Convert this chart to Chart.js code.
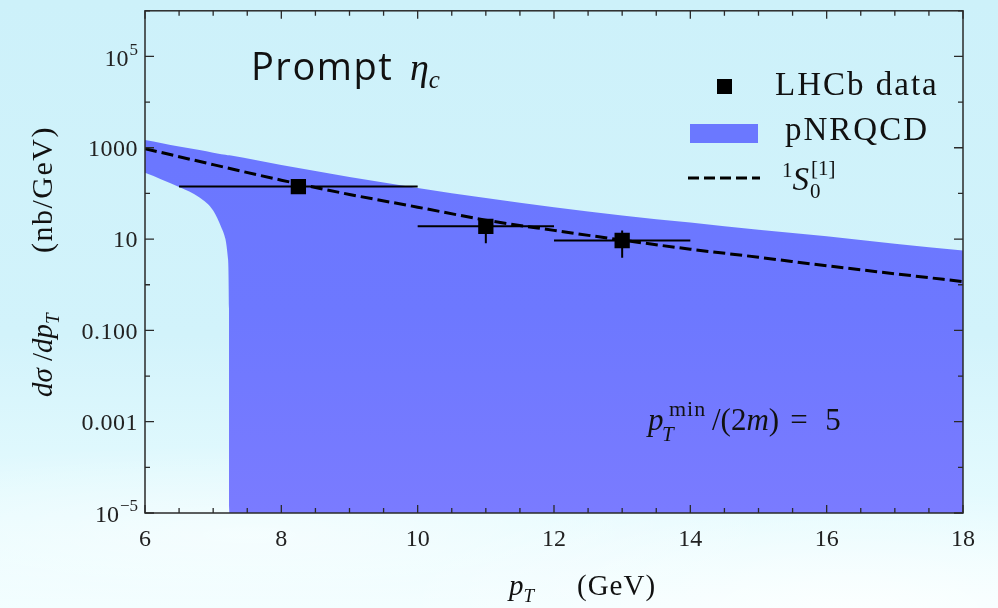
<!DOCTYPE html>
<html>
<head>
<meta charset="utf-8">
<script src="https://cdn.jsdelivr.net/npm/chart.js@4.4.1/dist/chart.umd.min.js"></script>
<style>
  html, body { margin: 0; padding: 0; }
  body {
    width: 998px; height: 608px; overflow: hidden;
    background:
      radial-gradient(ellipse 700px 120px at 25% 88%, rgba(255,255,255,0.55), rgba(255,255,255,0) 75%),
      radial-gradient(ellipse 600px 160px at 85% 100%, rgba(255,255,255,0.7), rgba(255,255,255,0) 75%),
      linear-gradient(180deg, #cdf1fa 0%, #d2f3fb 55%, #e6fbfe 85%, #f2feff 100%);
  }
  canvas { display: block; }
</style>
</head>
<body>
<canvas id="chart" width="998" height="608"></canvas>
<script>
// pT axis ticks (GeV)
const xTicks = [6, 8, 10, 12, 14, 16, 18];
// labelled decades on the y axis
const yLabelExp = [-5, -3, -1, 1, 3, 5];
const yLabels = ['10|\u22125', '0.001', '0.100', '10', '1000', '10|5'];

// LHCb data (nb/GeV)
const dataPt = [8.25, 11, 13];
const dataVal = [141, 19, 9.3];
const dataPtLo = [6.5, 10, 12];
const dataPtHi = [10, 12, 14];
const dataValLo = [105, 8.1, 3.9];
const dataValHi = [190, 27.5, 15.5];

// 1S0[1] curve
const curvePt = [6, 7, 8, 9, 10, 11, 12, 13, 14, 15, 16, 17, 18];
const curveVal = [955, 427, 195, 95, 50, 26, 15.5, 9.5, 6.0, 4.0, 2.6, 1.74, 1.17];

// pNRQCD band
const bandPt = [6, 6.25, 6.5, 6.8, 7, 7.12, 7.18, 7.215, 7.232, 7.24, 8, 9, 10, 11, 12, 13, 14, 15, 16, 17, 18];
const bandUpper = [1480, 1260, 1070, 890, 776, 720, 700, 688, 684, 682, 417, 229, 132, 79, 50, 33, 23, 16, 11.5, 7.9, 5.6];
const bandLower = [282, 200, 138, 81, 42, 18, 10, 4, 0.3, 1e-7, 1e-7, 1e-7, 1e-7, 1e-7, 1e-7, 1e-7, 1e-7, 1e-7, 1e-7, 1e-7, 1e-7];

const SERIF = '"Liberation Serif", "DejaVu Serif", serif';
const SANS = '"Open Sans", "DejaVu Sans", sans-serif';

const pairs = (xs, ys) => xs.map((v, i) => ({ x: v, y: ys[i] }));

// draw a run of text pieces: [text, font, dy]
function run(ctx, parts, x, y) {
  parts.forEach(([t, f, dy]) => {
    ctx.font = f;
    ctx.fillText(t, x, y + (dy || 0));
    x += ctx.measureText(t).width;
  });
  return x;
}

const deco = {
  id: 'deco',
  afterDatasetsDraw(chart) {
    const { ctx, chartArea: a, scales: { x, y } } = chart;
    ctx.save();
    // error bars
    ctx.strokeStyle = '#000';
    ctx.lineWidth = 2;
    dataPt.forEach((p, i) => {
      const px = x.getPixelForValue(p), py = y.getPixelForValue(dataVal[i]);
      ctx.beginPath();
      ctx.moveTo(x.getPixelForValue(dataPtLo[i]), py);
      ctx.lineTo(x.getPixelForValue(dataPtHi[i]), py);
      ctx.moveTo(px, y.getPixelForValue(dataValLo[i]));
      ctx.lineTo(px, y.getPixelForValue(dataValHi[i]));
      ctx.stroke();
    });

    // frame
    ctx.strokeStyle = '#2a2a2a';
    ctx.lineWidth = 1.5;
    ctx.strokeRect(a.left, a.top, a.right - a.left, a.bottom - a.top);

    // inward ticks on all four sides
    ctx.lineWidth = 1.3;
    ctx.beginPath();
    for (let v = 6; v <= 18.001; v += 0.5) {
      const px = x.getPixelForValue(v);
      const len = xTicks.includes(v) ? 8 : 5;
      ctx.moveTo(px, a.bottom); ctx.lineTo(px, a.bottom - len);
      ctx.moveTo(px, a.top); ctx.lineTo(px, a.top + len);
    }
    for (let e = -5; e <= 6; e++) {
      const py = y.getPixelForValue(Math.pow(10, e));
      const len = yLabelExp.includes(e) ? 9 : 5;
      ctx.moveTo(a.left, py); ctx.lineTo(a.left + len, py);
      ctx.moveTo(a.right, py); ctx.lineTo(a.right - len, py);
    }
    ctx.stroke();

    // y tick labels
    ctx.fillStyle = '#222';
    ctx.textAlign = 'right';
    ctx.textBaseline = 'middle';
    yLabelExp.forEach((e, i) => {
      const py = y.getPixelForValue(Math.pow(10, e));
      const [base, sup] = yLabels[i].split('|');
      if (sup) {
        ctx.font = '17px ' + SERIF;
        const sw = ctx.measureText(sup).width;
        ctx.fillText(sup, a.left - 7, py - 6);
        ctx.font = '24px ' + SERIF;
        ctx.fillText(base, a.left - 8 - sw, py + 3);
      } else {
        ctx.font = '24px ' + SERIF;
        ctx.letterSpacing = '0.5px';
        ctx.fillText(base, a.left - 7, py + 2);
        ctx.letterSpacing = '0px';
      }
    });
    ctx.restore();
  },
  afterDraw(chart) {
    const { ctx } = chart;
    ctx.save();
    ctx.fillStyle = '#111';
    ctx.textAlign = 'left';
    ctx.textBaseline = 'alphabetic';

    // title
    ctx.letterSpacing = '1.5px';
    ctx.font = '38px ' + SANS;
    ctx.fillText('Prompt', 251, 80);
    ctx.letterSpacing = '0px';
    run(ctx, [['\u03B7', 'italic 38px ' + SERIF, 0], ['c', 'italic 25px ' + SERIF, 8]], 410, 80);

    // legend
    ctx.fillStyle = '#000';
    ctx.fillRect(717, 79, 15, 15);
    ctx.fillStyle = '#6b78ff';
    ctx.fillRect(690, 124, 68, 19);
    ctx.strokeStyle = '#000';
    ctx.lineWidth = 3;
    ctx.setLineDash([11, 5]);
    ctx.beginPath();
    ctx.moveTo(688, 178); ctx.lineTo(760, 178);
    ctx.stroke();
    ctx.setLineDash([]);
    ctx.fillStyle = '#111';
    ctx.letterSpacing = '2px';
    ctx.font = '33px ' + SERIF;
    ctx.fillText('LHCb data', 775, 95);
    ctx.fillText('pNRQCD', 785, 140);
    ctx.letterSpacing = '0px';
    const sEnd = run(ctx, [['1', '21px ' + SERIF, -13], ['S', 'italic 33px ' + SERIF, 0]], 782, 190);
    ctx.font = '21px ' + SERIF;
    ctx.fillText('0', sEnd + 1, 198);
    ctx.fillText('[1]', sEnd + 2, 175);

    // annotation
    const f31 = '31px ' + SERIF, i31 = 'italic 31px ' + SERIF;
    ctx.font = i31; ctx.fillText('p', 648, 430);
    ctx.font = 'italic 21px ' + SERIF; ctx.fillText('T', 662, 441);
    ctx.letterSpacing = '1px';
    ctx.font = '22px ' + SERIF; ctx.fillText('min', 669, 416);
    ctx.letterSpacing = '0px';
    const pEnd = run(ctx, [['/(2', f31, 0], ['m', i31, 0], [')', f31, 0]], 712, 430);
    ctx.font = f31;
    ctx.fillText('=', pEnd + 11, 430);
    ctx.fillText('5', pEnd + 46, 430);

    // x title
    const f29 = '29px ' + SERIF, i29 = 'italic 29px ' + SERIF;
    run(ctx, [['p', i29, 0], ['T', 'italic 19px ' + SERIF, 7]], 509, 595);
    ctx.letterSpacing = '1px';
    run(ctx, [['(GeV)', f29, 0]], 577, 595);
    ctx.letterSpacing = '0px';

    // y title
    ctx.translate(52, 397);
    ctx.rotate(-Math.PI / 2);
    run(ctx, [['d\u03C3', i29, 0], [' /', f29, 0], ['dp', i29, 0], ['T', 'italic 19px ' + SERIF, 7]], 0, 0);
    ctx.letterSpacing = '1.5px';
    run(ctx, [['(nb/GeV)', '30px ' + SERIF, 0]], 144, 0);
    ctx.restore();
  }
};

const canvas = document.getElementById('chart');
new Chart(canvas.getContext('2d'), {
  type: 'line',
  data: {
    datasets: [
      {
        label: 'LHCb data',
        data: pairs(dataPt, dataVal),
        showLine: false,
        pointStyle: 'rect',
        pointRadius: 10.8,
        pointBackgroundColor: '#000',
        pointBorderWidth: 0,
        borderColor: '#000'
      },
      {
        label: '1S0[1]',
        data: pairs(curvePt, curveVal),
        borderColor: '#000',
        borderWidth: 3,
        borderDash: [12, 5],
        pointRadius: 0,
        fill: false,
        cubicInterpolationMode: 'monotone'
      },
      {
        label: 'pNRQCD',
        data: pairs(bandPt, bandUpper),
        borderColor: 'rgba(0,0,0,0)',
        borderWidth: 1,
        pointRadius: 0,
        fill: '+1',
        cubicInterpolationMode: 'monotone',
        backgroundColor: c => {
          const a = c.chart.chartArea;
          if (!a) return '#6b78ff';
          const g = c.chart.ctx.createLinearGradient(0, a.top, 0, a.bottom);
          g.addColorStop(0, '#6976ff');
          g.addColorStop(0.6, '#6d78ff');
          g.addColorStop(1, '#7a7bff');
          return g;
        }
      },
      {
        label: 'pNRQCD low',
        data: pairs(bandPt, bandLower),
        borderColor: 'rgba(0,0,0,0)',
        borderWidth: 1,
        pointRadius: 0,
        fill: false,
        cubicInterpolationMode: 'monotone'
      }
    ]
  },
  options: {
    responsive: false,
    animation: false,
    layout: { padding: { top: 8, right: 35, left: 0, bottom: 0 } },
    plugins: { legend: { display: false }, tooltip: { enabled: false } },
    scales: {
      x: {
        type: 'linear',
        min: 6,
        max: 18,
        afterBuildTicks: s => { s.ticks = xTicks.map(v => ({ value: v })); },
        grid: { display: false, drawTicks: false },
        border: { display: false },
        ticks: { color: '#222', font: { family: SERIF, size: 24 }, padding: 12, maxRotation: 0 },
        afterFit: s => { s.height = 95; }
      },
      y: {
        type: 'logarithmic',
        min: 1e-5,
        max: 1e6,
        grid: { display: false, drawTicks: false },
        border: { display: false },
        ticks: { display: false },
        afterFit: s => { s.width = 145; }
      }
    }
  },
  plugins: [deco]
});
</script>
</body>
</html>
